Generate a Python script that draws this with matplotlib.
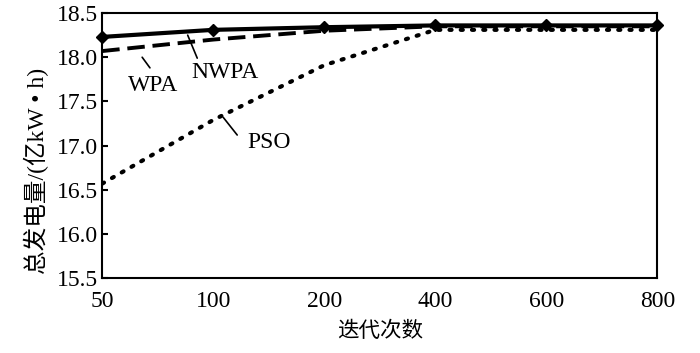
import matplotlib
matplotlib.use("Agg")
import matplotlib.pyplot as plt
import numpy as np

plt.rcParams['font.family'] = ['Liberation Serif', 'Noto Sans CJK SC']

iterations = ["50", "100", "200", "400", "600", "800"]
nwpa = [18.23, 18.31, 18.34, 18.36, 18.36, 18.36]
wpa = [18.07, 18.20, 18.30, 18.35, 18.35, 18.35]
pso = [16.57, 17.29, 17.91, 18.31, 18.31, 18.31]
yticks = [15.5, 16.0, 16.5, 17.0, 17.5, 18.0, 18.5]

fig = plt.figure(figsize=(7.0, 3.53), dpi=100)
ax = fig.add_axes([0.146, 0.212, 0.793, 0.751])
x = np.arange(len(iterations))

ax.plot(x, pso, color='black', linestyle=(0, (0.5, 2.2)), linewidth=3.0, dash_capstyle='round', zorder=2)
ax.plot(x, wpa, color='black', linestyle=(0, (4.5, 2)), linewidth=2.8, zorder=3)
ax.plot(x, nwpa, color='black', linestyle='-', linewidth=3.0, marker='D', markersize=6.5,
        zorder=4, clip_on=False)

ax.set_xlim(0, len(iterations) - 1)
ax.set_ylim(15.5, 18.5)
ax.set_xticks(x)
ax.set_xticklabels(iterations)
ax.set_yticks(yticks)
ax.set_yticklabels([f"{v:.1f}" for v in yticks])
ax.tick_params(axis='both', direction='in', labelsize=17, length=4, width=1.5)
ax.tick_params(axis='x', length=0, pad=9)
ax.tick_params(axis='y', pad=3)
for s in ax.spines.values():
    s.set_linewidth(1.5)

ax.set_xlabel("迭代次数", fontsize=15.5, labelpad=7)
ax.set_ylabel("总发电量/(亿kW • h)", fontsize=17)
ax.yaxis.set_label_coords(-0.095, 0.405)

line_kw = dict(arrowstyle='-', color='black', lw=1.2, shrinkA=0, shrinkB=0)
ax.annotate("", xy=(0.36, 18.00), xytext=(0.43, 17.88), arrowprops=line_kw)
ax.annotate("", xy=(0.77, 18.25), xytext=(0.856, 17.99), arrowprops=line_kw)
ax.annotate("", xy=(1.09, 17.32), xytext=(1.216, 17.12), arrowprops=line_kw)
ax.text(0.46, 17.68, "WPA", fontsize=17, ha='center', va='center')
ax.text(1.11, 17.83, "NWPA", fontsize=17, ha='center', va='center')
ax.text(1.505, 17.04, "PSO", fontsize=17, ha='center', va='center')

fig.savefig("out.png", dpi=100)
